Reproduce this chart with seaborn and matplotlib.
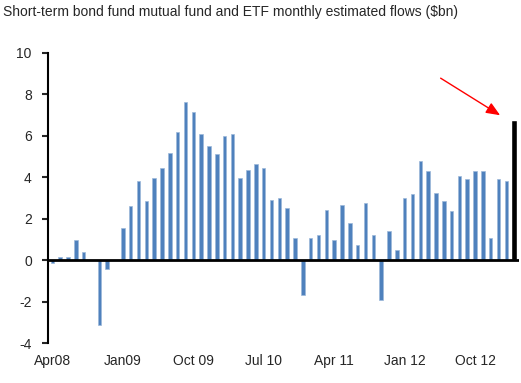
import numpy as np
import pandas as pd
import matplotlib
matplotlib.use("Agg")
import matplotlib.pyplot as plt
import seaborn as sns

sns.set_style("white")
plt.rcParams['font.family'] = ['Liberation Sans', 'DejaVu Sans']

# Monthly flows Apr 2008 .. Mar 2013 ($bn)
months = pd.period_range("2008-04", "2013-03", freq="M").strftime("%b %y").tolist()
flows = [-0.15, 0.16, 0.16, 0.98, 0.42, 0.0, -3.13, -0.40, 0.0, 1.55,
         2.60, 3.80, 2.84, 3.98, 4.47, 5.18, 6.16, 7.61, 7.13, 6.08,
         5.52, 5.11, 6.00, 6.08, 3.98, 4.37, 4.63, 4.47, 2.92, 3.00,
         2.52, 1.06, -1.69, 1.06, 1.23, 2.44, 0.98, 2.68, 1.79, 0.74,
         2.76, 1.23, -1.92, 1.39, 0.50, 3.00, 3.18, 4.79, 4.31, 3.24,
         2.84, 2.35, 4.06, 3.90, 4.31, 4.31, 1.06, 3.90, 3.82, 6.76]
tick_labels = ["Apr08", "Jan09", "Oct 09", "Jul 10", "Apr 11", "Jan 12", "Oct 12"]
tick_pos = [0, 9, 18, 27, 36, 45, 54]
yticks = [-4, -2, 0, 2, 4, 6, 8, 10]

df = pd.DataFrame({"pos": np.arange(len(flows)), "month": months, "flow": flows})
df_blue = df.iloc[:-1]
df_last = df.iloc[-1:]

fig = plt.figure(figsize=(5.21, 3.83), dpi=100)
ax = fig.add_axes([0.093, 0.104, 0.903, 0.758])

sns.barplot(data=df_blue, x="pos", y="flow", native_scale=True, width=0.45,
            color="#4F81BD", edgecolor="#9DB8DA", linewidth=0.5, saturation=1, ax=ax)
sns.barplot(data=df_last, x="pos", y="flow", native_scale=True, width=0.7,
            color="black", saturation=1, ax=ax)

ax.axhline(0, color="black", lw=2, zorder=5)
ax.set_xlim(-0.5, 59.6)
ax.set_ylim(-4, 10)
ax.set_yticks(yticks)
ax.set_yticklabels([str(v) for v in yticks], fontsize=10)
ax.set_xticks(tick_pos)
ax.set_xticklabels(tick_labels, fontsize=10)
ax.tick_params(axis="x", length=0, pad=8)
ax.tick_params(axis="y", length=4, width=1.5, direction="out", pad=8, left=True)
ax.set_xlabel("")
ax.set_ylabel("")
for s in ["top", "right", "bottom"]:
    ax.spines[s].set_visible(False)
ax.spines["left"].set_linewidth(1.5)
ax.spines["left"].set_color("black")

ax.annotate("", xy=(57.5, 6.92), xytext=(49.3, 8.85),
            arrowprops=dict(arrowstyle="-|>,head_length=0.6,head_width=0.25",
                            color="red", lw=1, mutation_scale=14))

fig.text(0.006, 0.969, "Short-term bond fund mutual fund and ETF monthly estimated flows ($bn)",
         ha="left", va="center", fontsize=10)

fig.savefig("out.png", dpi=100)
